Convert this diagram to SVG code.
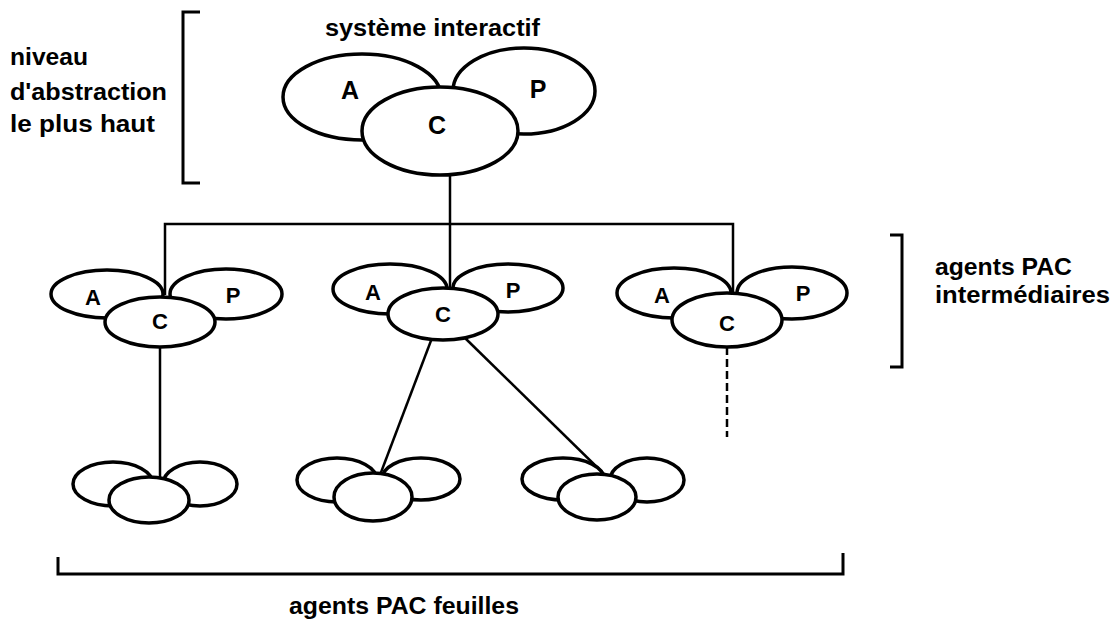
<svg xmlns="http://www.w3.org/2000/svg" width="1115" height="621" viewBox="0 0 1115 621">
  <style>
    .lbl { font-family: "Liberation Sans", Arial, sans-serif; font-weight: bold; fill: #000; }
    .big { font-size: 23px; }
    .part { font-size: 25px; text-anchor: middle; }
    .part-s { font-size: 22px; text-anchor: middle; }
    .ell { fill: #fff; stroke: #000; stroke-width: 3.5; }
    .link { stroke: #000; stroke-width: 2.5; fill: none; }
    .bracket { stroke: #000; stroke-width: 3; fill: none; }
  </style>

  <!-- Brackets and level captions -->
  <g id="level-top">
    <path class="bracket" d="M200,12 H183 V183 H200"/>
    <text class="lbl big" x="10" y="65" textLength="78" lengthAdjust="spacingAndGlyphs">niveau</text>
    <text class="lbl big" x="10" y="100" textLength="157" lengthAdjust="spacingAndGlyphs">d'abstraction</text>
    <text class="lbl big" x="10" y="132" textLength="145" lengthAdjust="spacingAndGlyphs">le plus haut</text>
  </g>
  <g id="level-intermediate">
    <path class="bracket" d="M890,235 H902 V367 H890"/>
    <text class="lbl big" x="935" y="275" textLength="137" lengthAdjust="spacingAndGlyphs">agents PAC</text>
    <text class="lbl big" x="935" y="303" textLength="175" lengthAdjust="spacingAndGlyphs">intermédiaires</text>
  </g>
  <g id="level-leaves">
    <path class="bracket" d="M58,557 V574 H843 V553"/>
    <text class="lbl big" x="289" y="614" textLength="230" lengthAdjust="spacingAndGlyphs">agents PAC feuilles</text>
  </g>

  <!-- Connectors between agents -->
  <g id="connectors">
    <line class="link" x1="450" y1="170" x2="450" y2="223"/>
    <path class="link" d="M165,295 V224 H733 V295" stroke-width="3"/>
    <line class="link" x1="450" y1="223" x2="450" y2="292"/>
    <line class="link" x1="160" y1="345" x2="160" y2="479"/>
    <line class="link" x1="432" y1="338" x2="380" y2="475"/>
    <line class="link" x1="465" y1="338" x2="605" y2="475"/>
    <line class="link" x1="727" y1="347" x2="727" y2="437" stroke-width="3" stroke-dasharray="8 4"/>
  </g>

  <!-- Root agent -->
  <g id="agent-root">
    <text class="lbl big" x="325" y="36" textLength="215" lengthAdjust="spacingAndGlyphs">système interactif</text>
    <ellipse class="ell" cx="362" cy="97" rx="79" ry="43"/>
    <ellipse class="ell" cx="524" cy="91" rx="71" ry="43"/>
    <ellipse class="ell" cx="440" cy="131" rx="78" ry="44"/>
    <text class="lbl part" x="350" y="99">A</text>
    <text class="lbl part" x="538" y="98">P</text>
    <text class="lbl part" x="437" y="134">C</text>
  </g>

  <!-- Intermediate agents -->
  <g id="agent-mid-1">
    <ellipse class="ell" cx="107" cy="294" rx="56" ry="24"/>
    <ellipse class="ell" cx="226" cy="294" rx="56" ry="25"/>
    <ellipse class="ell" cx="160" cy="322" rx="55" ry="25"/>
    <text class="lbl part-s" x="93" y="305">A</text>
    <text class="lbl part-s" x="233" y="303">P</text>
    <text class="lbl part-s" x="160" y="329">C</text>
  </g>
  <g id="agent-mid-2">
    <ellipse class="ell" cx="390" cy="289" rx="57" ry="25"/>
    <ellipse class="ell" cx="508" cy="288" rx="55" ry="24"/>
    <ellipse class="ell" cx="443" cy="314" rx="55" ry="26"/>
    <text class="lbl part-s" x="373" y="300">A</text>
    <text class="lbl part-s" x="513" y="298">P</text>
    <text class="lbl part-s" x="443" y="322">C</text>
  </g>
  <g id="agent-mid-3">
    <ellipse class="ell" cx="674" cy="293" rx="57" ry="25"/>
    <ellipse class="ell" cx="792" cy="293" rx="55" ry="26"/>
    <ellipse class="ell" cx="727" cy="320" rx="55" ry="27"/>
    <text class="lbl part-s" x="662" y="303">A</text>
    <text class="lbl part-s" x="803" y="301">P</text>
    <text class="lbl part-s" x="727" y="331">C</text>
  </g>

  <!-- Leaf agents -->
  <g id="agent-leaf-1">
    <ellipse class="ell" cx="113" cy="484" rx="40" ry="22"/>
    <ellipse class="ell" cx="200" cy="484" rx="37" ry="22"/>
    <ellipse class="ell" cx="149" cy="500" rx="40" ry="23"/>
  </g>
  <g id="agent-leaf-2">
    <ellipse class="ell" cx="337" cy="480" rx="40" ry="22"/>
    <ellipse class="ell" cx="421" cy="479" rx="39" ry="21"/>
    <ellipse class="ell" cx="373" cy="497" rx="39" ry="24"/>
  </g>
  <g id="agent-leaf-3">
    <ellipse class="ell" cx="563" cy="479" rx="41" ry="21"/>
    <ellipse class="ell" cx="647" cy="480" rx="37" ry="22"/>
    <ellipse class="ell" cx="597" cy="497" rx="39" ry="23"/>
  </g>
</svg>
